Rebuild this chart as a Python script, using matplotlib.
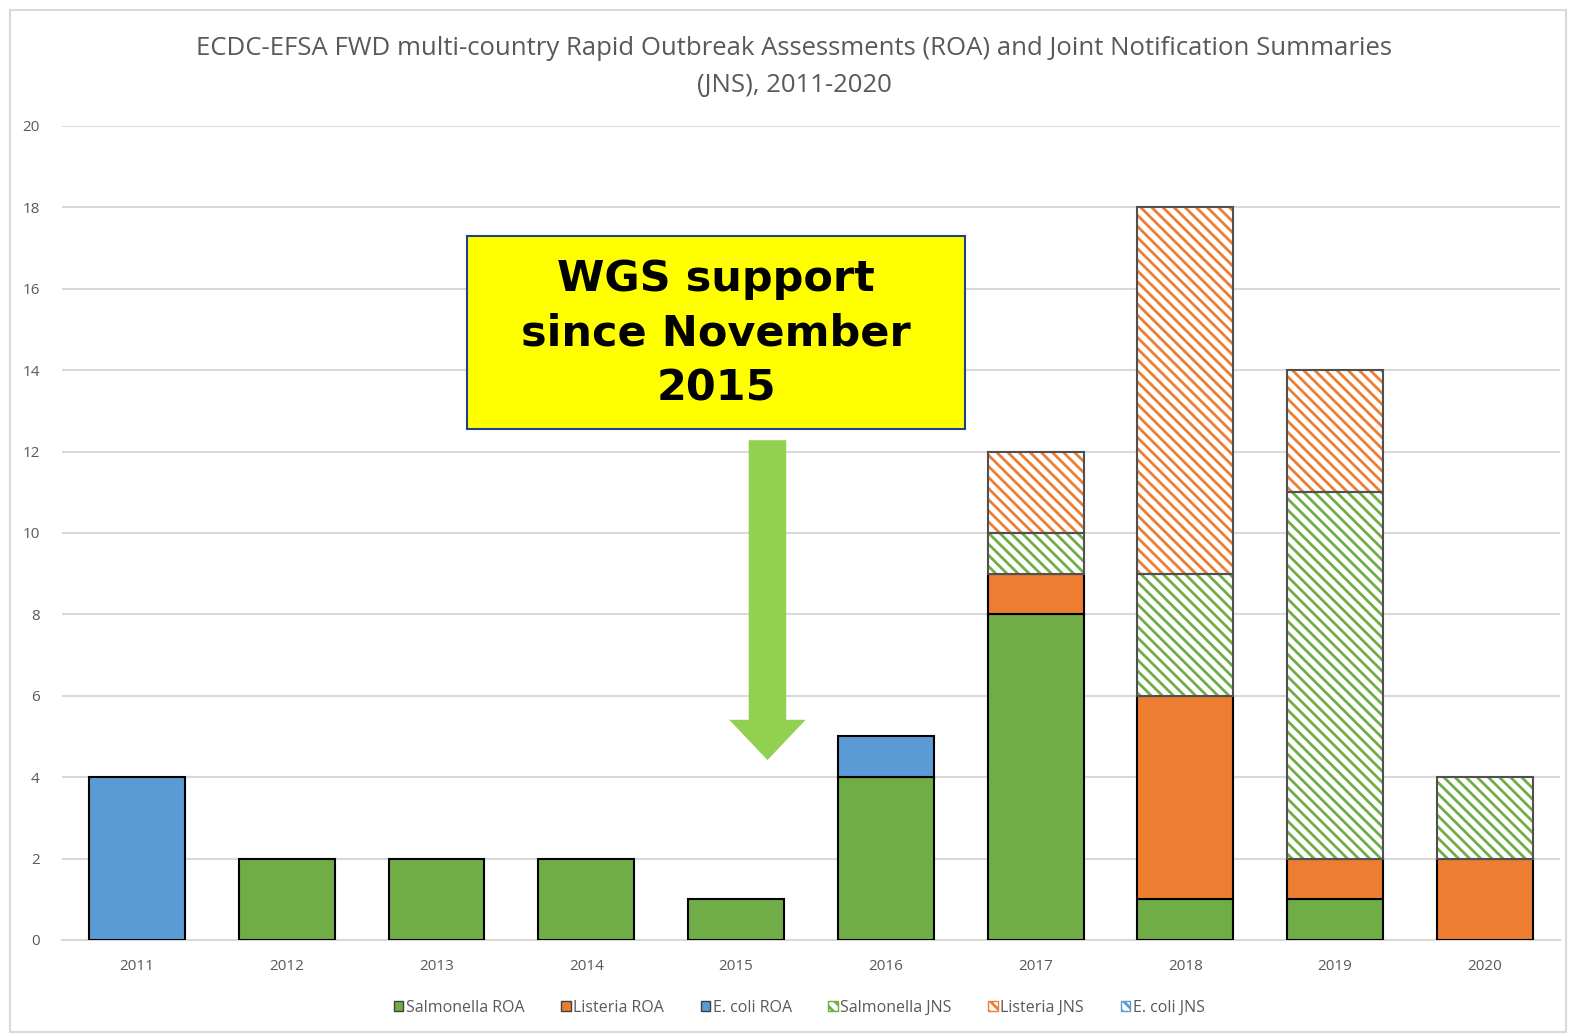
import numpy as np
import matplotlib
matplotlib.use('Agg')
import matplotlib.pyplot as plt
from matplotlib.patches import Rectangle, Patch

years = ['2011', '2012', '2013', '2014', '2015', '2016', '2017', '2018', '2019', '2020']
salmonella_roa = [0, 2, 2, 2, 1, 4, 8, 1, 1, 0]
listeria_roa = [0, 0, 0, 0, 0, 0, 1, 5, 1, 2]
ecoli_roa = [4, 0, 0, 0, 0, 1, 0, 0, 0, 0]
salmonella_jns = [0, 0, 0, 0, 0, 0, 1, 3, 9, 2]
listeria_jns = [0, 0, 0, 0, 0, 0, 2, 9, 3, 0]
ecoli_jns = [0, 0, 0, 0, 0, 0, 0, 0, 0, 0]

series = [
    ("Salmonella ROA", salmonella_roa, '#70AD47', False),
    ("Listeria ROA", listeria_roa, '#ED7D31', False),
    ("E. coli ROA", ecoli_roa, '#5B9BD5', False),
    ("Salmonella JNS", salmonella_jns, '#70AD47', True),
    ("Listeria JNS", listeria_jns, '#ED7D31', True),
    ("E. coli JNS", ecoli_jns, '#5B9BD5', True),
]

plt.rcParams['hatch.linewidth'] = 2.0
plt.rcParams['font.family'] = ['Open Sans', 'DejaVu Sans']

fig = plt.figure(figsize=(15.7, 10.36), dpi=100)
ax = fig.add_axes([0.0395, 0.0927, 0.954, 0.7857])

x = np.arange(len(years))
w = 0.64
bottom = np.zeros(len(years))
handles = []
for name, vals, col, hatched in series:
    vals = np.array(vals, dtype=float)
    m = vals > 0
    if hatched:
        ax.bar(x[m], vals[m], w, bottom=bottom[m], facecolor='white', edgecolor=col,
               hatch='\\\\\\', linewidth=0, zorder=3)
        ax.bar(x[m], vals[m], w, bottom=bottom[m], fill=False, edgecolor='#505050',
               linewidth=1.5, zorder=4)
        handles.append(Patch(facecolor='white', edgecolor=col, hatch='\\\\\\',
                             label=name))
    else:
        ax.bar(x[m], vals[m], w, bottom=bottom[m], color=col, edgecolor='black',
               linewidth=1.5, zorder=3)
        handles.append(Patch(facecolor=col, edgecolor='#404040', label=name))
    bottom += vals

ax.set_xlim(-0.5, len(years) - 0.5)
ax.set_ylim(0, 20)
ax.set_yticks(range(0, 21, 2))
ax.set_xticks(x)
ax.set_xticklabels(years)
ax.tick_params(axis='both', length=0, labelsize=11, colors='#595959')
ax.tick_params(axis='y', pad=16)
ax.tick_params(axis='x', pad=14)
ax.grid(axis='y', color='#d9d9d9', linewidth=1.5, zorder=0)
for s in ['top', 'right', 'left']:
    ax.spines[s].set_visible(False)
ax.spines['bottom'].set_color('#d9d9d9')
ax.spines['bottom'].set_linewidth(1.5)

fig.text(0.506, 0.965, "ECDC-EFSA FWD multi-country Rapid Outbreak Assessments (ROA) and Joint Notification Summaries\n(JNS), 2011-2020",
         ha='center', va='top', fontsize=18.5, color='#595959', linespacing=1.6)

# yellow box with WGS note
fig.patches.append(Rectangle((467 / 1570, 1 - 429 / 1036), 498 / 1570, 193 / 1036,
                             transform=fig.transFigure, facecolor='#FFFF00',
                             edgecolor='#1F3F8F', linewidth=1.5, zorder=5))
fig.text(716 / 1570, 1 - 334 / 1036, "WGS support\nsince November\n2015", ha='center',
         va='center', fontsize=31, fontweight='bold', family='DejaVu Sans',
         linespacing=1.38, zorder=6)

# green arrow pointing down to 2015
ax.annotate('', xy=(4.21, 4.42), xytext=(4.21, 12.28),
            arrowprops=dict(arrowstyle='simple,head_width=5.5,head_length=2.9,tail_width=2.7',
                            color='#92D050', linewidth=0, shrinkA=0, shrinkB=0,
                            mutation_scale=10), zorder=6)

fig.legend(handles=handles, loc='center', bbox_to_anchor=(0.509, 0.027), ncol=6,
           frameon=False, fontsize=11.5, handlelength=0.6, handleheight=0.6,
           handletextpad=0.15, columnspacing=2.3, labelcolor='#595959')

fig.patches.append(Rectangle((10 / 1570, 4 / 1036), 1556 / 1570, 1 - 14 / 1036,
                             transform=fig.transFigure, fill=False,
                             edgecolor='#d9d9d9', linewidth=1.5))

fig.savefig('out.png', dpi=100)
